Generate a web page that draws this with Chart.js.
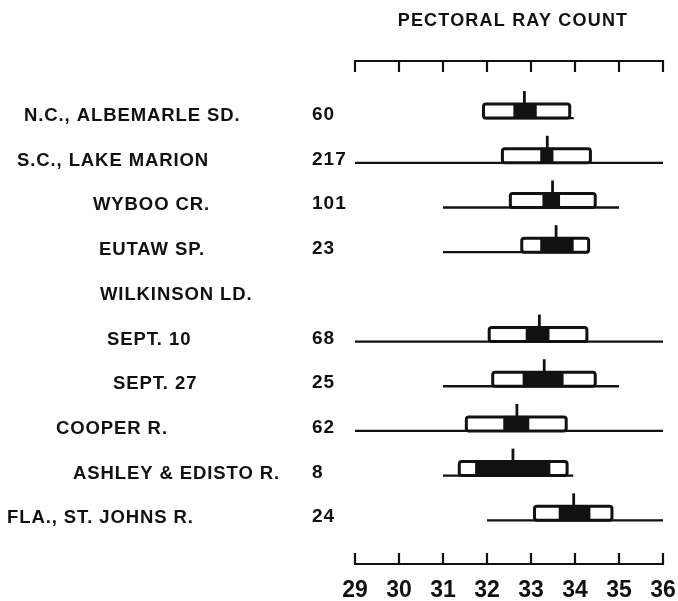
<!DOCTYPE html>
<html><head><meta charset="utf-8">
<script src="https://cdn.jsdelivr.net/npm/chart.js@4"></script>
<style>html,body{margin:0;padding:0;background:#fff}canvas{display:block}</style>
</head><body>
<canvas id="c" width="678" height="601"></canvas>
<script>
// ---- data ----
const localities = ['N.C., ALBEMARLE SD.', 'S.C., LAKE MARION', 'WYBOO CR.', 'EUTAW SP.', 'WILKINSON LD.', 'SEPT. 10', 'SEPT. 27', 'COOPER R.', 'ASHLEY & EDISTO R.', 'FLA., ST. JOHNS R.'];
const sampleSizes = ['60', '217', '101', '23', '', '68', '25', '62', '8', '24'];
const rangeMin = [31.92, 29, 31, 31, null, 29, 31, 29, 31, 32];
const rangeMax = [33.97, 36, 35, 34.3, null, 36, 35, 36, 33.96, 36];
const sdLow   = [31.92, 32.35, 32.53, 32.79, null, 32.05, 32.13, 31.53, 31.37, 33.08];
const sdHigh  = [33.88, 34.35, 34.46, 34.31, null, 34.27, 34.46, 33.80, 33.82, 34.84];
const seLow   = [32.60, 33.21, 33.26, 33.21, null, 32.88, 32.81, 32.37, 31.73, 33.63];
const seHigh  = [33.13, 33.51, 33.66, 33.97, null, 33.42, 33.74, 32.96, 33.44, 34.35];
const means   = [32.85, 33.37, 33.49, 33.57, null, 33.19, 33.30, 32.68, 32.59, 33.97];
const tickValues = [29, 30, 31, 32, 33, 34, 35, 36];
const tickLabels = ['29', '30', '31', '32', '33', '34', '35', '36'];
const axisTitle = 'PECTORAL RAY COUNT';

// ---- layout / style ----
const labelLeft = [24, 17, 93, 99, 100, 107, 113, 56, 73, 7];
const FONT = '"Liberation Sans", Arial, sans-serif';
const INK = '#111';

const hubbs = {
  id: 'hubbs',
  afterDraw(chart) {
    const { ctx, scales: { x, y }, chartArea: a } = chart;
    ctx.save();
    ctx.strokeStyle = INK; ctx.fillStyle = INK;
    ctx.lineCap = 'butt';
    const x0 = x.getPixelForValue(tickValues[0]);
    const x1 = x.getPixelForValue(tickValues[tickValues.length - 1]);

    // top axis (ticks point down)
    ctx.lineWidth = 2.2;
    ctx.beginPath();
    ctx.moveTo(x0 - 1, a.top + 1); ctx.lineTo(x1 + 1, a.top + 1);
    tickValues.forEach(v => { const px = x.getPixelForValue(v); ctx.moveTo(px, a.top); ctx.lineTo(px, a.top + 12); });
    ctx.stroke();

    // bottom axis (ticks point up)
    ctx.beginPath();
    ctx.moveTo(x0 - 1, a.bottom - 1); ctx.lineTo(x1 + 1, a.bottom - 1);
    tickValues.forEach(v => { const px = x.getPixelForValue(v); ctx.moveTo(px, a.bottom); ctx.lineTo(px, a.bottom - 12); });
    ctx.stroke();

    // tick labels
    ctx.font = 'bold 23px ' + FONT;
    ctx.textAlign = 'center'; ctx.textBaseline = 'alphabetic';
    tickValues.forEach((v, k) => ctx.fillText(tickLabels[k], x.getPixelForValue(v), a.bottom + 32));

    // title
    ctx.font = 'bold 18px ' + FONT;
    ctx.letterSpacing = '1.2px';
    ctx.textAlign = 'center';
    ctx.fillText(axisTitle, (x0 + x1) / 2 + 4, 26);

    // rows
    const BOX = 14, TICK = 13;
    localities.forEach((name, i) => {
      const yb = y.getPixelForValue(i);
      ctx.font = 'bold 18.5px ' + FONT;
      ctx.letterSpacing = '0.9px';
      ctx.textAlign = 'left';
      ctx.fillText(name, labelLeft[i], yb + 3);
      if (sampleSizes[i]) {
        ctx.font = 'bold 19px ' + FONT;
        ctx.letterSpacing = '1px';
        ctx.fillText(sampleSizes[i], 312, yb + 2);
      }
      if (means[i] == null) return;
      // range line
      ctx.lineWidth = 2.3;
      ctx.beginPath();
      ctx.moveTo(x.getPixelForValue(rangeMin[i]), yb);
      ctx.lineTo(x.getPixelForValue(rangeMax[i]), yb);
      ctx.stroke();
      // SD box (white)
      const sl = x.getPixelForValue(sdLow[i]), sh = x.getPixelForValue(sdHigh[i]);
      ctx.lineWidth = 3;
      ctx.beginPath();
      ctx.roundRect(sl, yb - BOX, sh - sl, BOX, 2.5);
      ctx.fillStyle = '#fff'; ctx.fill();
      ctx.fillStyle = INK; ctx.stroke();
      // 2SE box (black)
      const el = x.getPixelForValue(seLow[i]), eh = x.getPixelForValue(seHigh[i]);
      ctx.fillRect(el, yb - BOX - 1, eh - el, BOX + 1);
      // mean tick
      const mx = x.getPixelForValue(means[i]);
      ctx.lineWidth = 2.8;
      ctx.beginPath();
      ctx.moveTo(mx, yb - BOX); ctx.lineTo(mx, yb - BOX - TICK);
      ctx.stroke();
    });
    ctx.restore();
  }
};

new Chart(document.getElementById('c'), {
  type: 'scatter',
  data: {
    datasets: [{
      label: 'Mean',
      data: means.map((m, i) => m == null ? null : { x: m, y: i }).filter(Boolean),
      pointRadius: 0,
      showLine: false
    }]
  },
  options: {
    responsive: false,
    animation: false,
    devicePixelRatio: 1,
    layout: { padding: { left: 355, right: 15, top: 60, bottom: 36 } },
    plugins: { legend: { display: false }, tooltip: { enabled: false }, title: { display: false } },
    scales: {
      x: { type: 'linear', min: 29, max: 36, display: false },
      y: { type: 'linear', min: -1.3, max: 10, reverse: true, display: false }
    }
  },
  plugins: [hubbs]
});
</script>
</body></html>
